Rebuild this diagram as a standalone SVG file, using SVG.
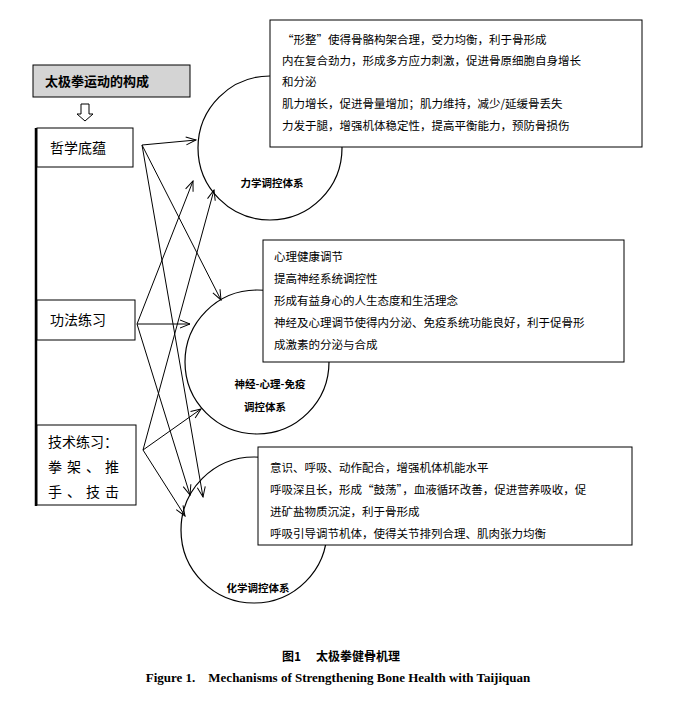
<svg xmlns="http://www.w3.org/2000/svg" width="682" height="703" viewBox="0 0 682 703">
<defs>
<marker id="ah" markerWidth="12" markerHeight="10" refX="11" refY="5" orient="auto" markerUnits="userSpaceOnUse"><path d="M1,1 L11,5 L1,9" fill="none" stroke="#000" stroke-width="1"/></marker>
</defs>
<style>
text{font-family:"Noto Sans CJK SC","Liberation Serif",serif;fill:#000}
text.en{font-family:"Liberation Serif",serif}
.b{fill:#fff;stroke:#000;stroke-width:1}
.c{fill:#fff;stroke:#000;stroke-width:1.2}
.t{font-size:11.5px}
.lb{font-size:14px}
.cl{font-size:10.5px;font-weight:bold;text-anchor:middle}
.cn line{stroke:#000;stroke-width:1;marker-end:url(#ah)}
</style>
<rect width="682" height="703" fill="#fff"/>
<g id="title"><rect x="33" y="65" width="157" height="32" fill="#d4d4d4" stroke="#000"/><text x="45" y="86" font-size="13" font-weight="bold">太极拳运动的构成</text></g>
<g id="downarrow"><path d="M81,104 H89 V114 H93 L85,121 L77,114 H81 Z" fill="#fff" stroke="#000"/></g>
<line x1="36" y1="128" x2="36" y2="506" stroke="#000" stroke-width="2.5"/>
<g id="n1"><rect class="b" x="37" y="128" width="96" height="39"/><text class="lb" x="50" y="153">哲学底蕴</text></g>
<g id="n2"><rect class="b" x="37" y="300" width="98" height="40"/><text class="lb" x="50" y="325">功法练习</text></g>
<g id="n3"><rect class="b" x="37" y="425" width="99" height="80"/><text class="lb" x="48" y="447">技术练习：</text><text class="lb" x="48" y="472" letter-spacing="5">拳架、推</text><text class="lb" x="48" y="497" letter-spacing="5">手、技击</text></g>
<g id="c1"><circle class="c" cx="270" cy="148" r="72"/><text class="cl" x="272" y="187">力学调控体系</text></g>
<g id="c2"><circle class="c" cx="257" cy="362" r="72"/><text class="cl" x="270" y="388">神经-心理-免疫</text><text class="cl" x="265" y="411">调控体系</text></g>
<g id="c3"><circle class="c" cx="254" cy="530" r="73"/><text class="cl" x="258" y="592">化学调控体系</text></g>
<g id="box1"><rect class="b" x="270" y="20" width="372" height="127"/>
<text class="t" x="282" y="44">“形整”使得骨骼构架合理，受力均衡，利于骨形成</text>
<text class="t" x="282" y="65">内在复合劲力，形成多方应力刺激，促进骨原细胞自身增长</text>
<text class="t" x="282" y="86">和分泌</text>
<text class="t" x="282" y="108">肌力增长，促进骨量增加；肌力维持，减少/延缓骨丢失</text>
<text class="t" x="282" y="130">力发于腿，增强机体稳定性，提高平衡能力，预防骨损伤</text></g>
<g id="box2"><rect class="b" x="263" y="240" width="361" height="122"/>
<text class="t" x="274" y="261">心理健康调节</text>
<text class="t" x="274" y="283">提高神经系统调控性</text>
<text class="t" x="274" y="305">形成有益身心的人生态度和生活理念</text>
<text class="t" x="274" y="327">神经及心理调节使得内分泌、免疫系统功能良好，利于促骨形</text>
<text class="t" x="274" y="349">成激素的分泌与合成</text></g>
<g id="box3"><rect class="b" x="258" y="447" width="374" height="98"/>
<text class="t" x="270" y="472">意识、呼吸、动作配合，增强机体机能水平</text>
<text class="t" x="270" y="494">呼吸深且长，形成“鼓荡”，血液循环改善，促进营养吸收，促</text>
<text class="t" x="270" y="516">进矿盐物质沉淀，利于骨形成</text>
<text class="t" x="270" y="538">呼吸引导调节机体，使得关节排列合理、肌肉张力均衡</text></g>
<g id="connectors" class="cn">
<line x1="142" y1="145" x2="196" y2="140"/>
<line x1="142" y1="145" x2="221" y2="300"/>
<line x1="142" y1="145" x2="203" y2="497"/>
<line x1="137" y1="324" x2="190" y2="324"/>
<line x1="137" y1="324" x2="193" y2="181"/>
<line x1="137" y1="324" x2="190" y2="495"/>
<line x1="143" y1="450" x2="214" y2="190"/>
<line x1="143" y1="450" x2="201" y2="409"/>
<line x1="143" y1="450" x2="185" y2="516"/>
</g>
<text x="341" y="661" font-size="12" font-weight="bold" text-anchor="middle">图1　 太极拳健骨机理</text>
<text class="en" x="338" y="682" font-size="13" font-weight="bold" text-anchor="middle">Figure 1.　Mechanisms of Strengthening Bone Health with Taijiquan</text>
</svg>
